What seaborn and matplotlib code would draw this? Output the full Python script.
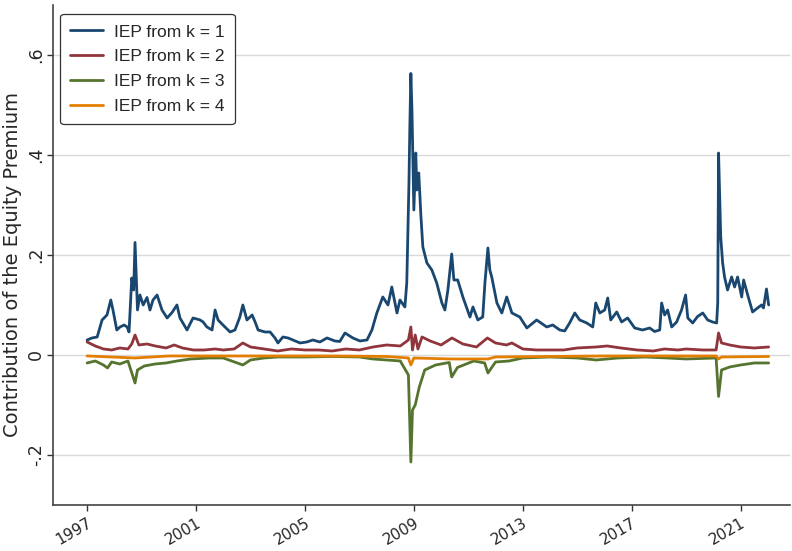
import numpy as np
import pandas as pd
import matplotlib
matplotlib.use("Agg")
import matplotlib.pyplot as plt
import seaborn as sns

# ---- data (decimal years, contribution) ----
k1_year = [1997.00, 1997.18, 1997.37, 1997.55, 1997.73, 1997.87, 1997.95, 1998.09, 1998.21, 1998.36,
           1998.47, 1998.54, 1998.64, 1998.71, 1998.76, 1998.85, 1998.94, 1999.06, 1999.20, 1999.31,
           1999.42, 1999.57, 1999.75, 1999.94, 2000.12, 2000.30, 2000.41, 2000.67, 2000.89, 2001.15,
           2001.26, 2001.40, 2001.59, 2001.70, 2001.81, 2001.99, 2002.25, 2002.43, 2002.61, 2002.72,
           2002.87, 2003.06, 2003.17, 2003.28, 2003.53, 2003.72, 2003.90, 2004.01, 2004.19, 2004.38,
           2004.56, 2004.82, 2005.07, 2005.29, 2005.55, 2005.81, 2006.10, 2006.28, 2006.47, 2006.76,
           2007.02, 2007.28, 2007.46, 2007.64, 2007.86, 2008.05, 2008.19, 2008.38, 2008.49, 2008.67,
           2008.74, 2008.78, 2008.82, 2008.85, 2008.89, 2008.93, 2008.96, 2009.00, 2009.07, 2009.11,
           2009.18, 2009.26, 2009.33, 2009.48, 2009.66, 2009.84, 2010.03, 2010.14, 2010.25, 2010.39,
           2010.47, 2010.61, 2010.80, 2011.06, 2011.17, 2011.35, 2011.53, 2011.61, 2011.72, 2011.79,
           2011.86, 2012.05, 2012.23, 2012.41, 2012.60, 2012.89, 2013.15, 2013.51, 2013.88, 2014.10,
           2014.36, 2014.54, 2014.72, 2014.91, 2015.09, 2015.35, 2015.57, 2015.68, 2015.83, 2016.01,
           2016.12, 2016.23, 2016.45, 2016.63, 2016.85, 2017.11, 2017.40, 2017.66, 2017.84, 2018.03,
           2018.10, 2018.21, 2018.32, 2018.47, 2018.65, 2018.83, 2018.98, 2019.06, 2019.24, 2019.42,
           2019.61, 2019.79, 2019.97, 2020.12, 2020.16, 2020.19, 2020.27, 2020.34, 2020.41, 2020.52,
           2020.67, 2020.78, 2020.89, 2021.04, 2021.11, 2021.26, 2021.44, 2021.62, 2021.77, 2021.84,
           2021.95, 2022.03]
k1_value = [0.030, 0.034, 0.036, 0.070, 0.080, 0.110, 0.090, 0.050, 0.056, 0.060,
            0.056, 0.046, 0.154, 0.130, 0.225, 0.090, 0.120, 0.100, 0.115, 0.090,
            0.110, 0.120, 0.090, 0.074, 0.085, 0.100, 0.074, 0.050, 0.074, 0.070,
            0.066, 0.056, 0.050, 0.090, 0.070, 0.060, 0.046, 0.050, 0.076, 0.100,
            0.070, 0.080, 0.066, 0.050, 0.046, 0.046, 0.034, 0.024, 0.036, 0.034,
            0.030, 0.024, 0.026, 0.030, 0.026, 0.034, 0.028, 0.027, 0.044, 0.034,
            0.028, 0.030, 0.050, 0.084, 0.116, 0.100, 0.136, 0.084, 0.110, 0.096,
            0.144, 0.244, 0.344, 0.450, 0.563, 0.490, 0.400, 0.290, 0.404, 0.330,
            0.364, 0.277, 0.216, 0.184, 0.170, 0.144, 0.104, 0.090, 0.130, 0.202,
            0.150, 0.150, 0.116, 0.076, 0.096, 0.070, 0.076, 0.144, 0.214, 0.170,
            0.156, 0.104, 0.084, 0.116, 0.084, 0.076, 0.054, 0.070, 0.056, 0.060,
            0.050, 0.048, 0.064, 0.084, 0.070, 0.064, 0.056, 0.104, 0.084, 0.090,
            0.114, 0.070, 0.086, 0.066, 0.074, 0.054, 0.050, 0.054, 0.047, 0.050,
            0.104, 0.080, 0.090, 0.056, 0.066, 0.090, 0.120, 0.074, 0.064, 0.077,
            0.084, 0.070, 0.066, 0.064, 0.104, 0.404, 0.236, 0.184, 0.156, 0.130,
            0.156, 0.136, 0.156, 0.116, 0.150, 0.120, 0.086, 0.094, 0.100, 0.094,
            0.132, 0.100]

k2_year = [1997.00, 1997.30, 1997.60, 1997.90, 1998.20, 1998.50, 1998.64, 1998.76, 1998.90, 1999.20,
           1999.50, 1999.90, 2000.20, 2000.50, 2000.90, 2001.30, 2001.70, 2002.00, 2002.40, 2002.72,
           2003.00, 2003.50, 2004.00, 2004.50, 2005.00, 2005.50, 2006.00, 2006.50, 2007.00, 2007.50,
           2008.00, 2008.50, 2008.80, 2008.89, 2008.95, 2009.05, 2009.15, 2009.30, 2009.60, 2010.00,
           2010.40, 2010.80, 2011.30, 2011.70, 2012.00, 2012.40, 2012.60, 2013.00, 2013.50, 2014.00,
           2014.50, 2015.00, 2015.70, 2016.10, 2016.60, 2017.20, 2017.80, 2018.20, 2018.70, 2019.00,
           2019.60, 2020.10, 2020.19, 2020.30, 2020.60, 2021.00, 2021.50, 2022.03]
k2_value = [0.026, 0.018, 0.012, 0.010, 0.014, 0.012, 0.022, 0.040, 0.020, 0.022,
            0.018, 0.014, 0.020, 0.014, 0.010, 0.010, 0.012, 0.010, 0.012, 0.024,
            0.016, 0.012, 0.008, 0.012, 0.010, 0.010, 0.008, 0.012, 0.010, 0.016,
            0.020, 0.018, 0.030, 0.056, 0.010, 0.040, 0.012, 0.036, 0.028, 0.020,
            0.034, 0.022, 0.016, 0.034, 0.024, 0.020, 0.024, 0.012, 0.010, 0.010,
            0.010, 0.014, 0.016, 0.018, 0.014, 0.010, 0.008, 0.012, 0.010, 0.012,
            0.010, 0.010, 0.044, 0.024, 0.020, 0.016, 0.014, 0.016]

k3_year = [1997.00, 1997.30, 1997.60, 1997.75, 1997.90, 1998.20, 1998.50, 1998.76, 1998.85, 1999.10,
           1999.50, 1999.90, 2000.30, 2000.80, 2001.50, 2002.00, 2002.72, 2003.00, 2003.50, 2004.00,
           2005.00, 2006.00, 2007.00, 2007.50, 2008.00, 2008.50, 2008.80, 2008.89, 2008.95, 2009.05,
           2009.20, 2009.40, 2009.80, 2010.30, 2010.39, 2010.60, 2011.20, 2011.60, 2011.72, 2012.00,
           2012.50, 2013.00, 2014.00, 2015.00, 2015.70, 2016.50, 2017.50, 2018.30, 2019.00, 2020.10,
           2020.19, 2020.30, 2020.60, 2021.00, 2021.50, 2022.03]
k3_value = [-0.016, -0.012, -0.020, -0.026, -0.014, -0.018, -0.012, -0.056, -0.030, -0.022,
            -0.018, -0.016, -0.012, -0.008, -0.006, -0.006, -0.020, -0.010, -0.006, -0.004,
            -0.004, -0.003, -0.004, -0.008, -0.010, -0.012, -0.040, -0.214, -0.110, -0.100,
            -0.064, -0.030, -0.020, -0.015, -0.044, -0.025, -0.012, -0.016, -0.036, -0.014,
            -0.012, -0.006, -0.004, -0.006, -0.010, -0.006, -0.004, -0.006, -0.008, -0.006,
            -0.083, -0.030, -0.024, -0.020, -0.016, -0.016]

k4_year = [1997.00, 1998.76, 2000.00, 2003.00, 2006.00, 2008.00, 2008.80, 2008.89, 2009.00, 2010.39,
           2011.72, 2012.00, 2016.00, 2020.10, 2020.19, 2020.30, 2022.03]
k4_value = [-0.002, -0.006, -0.002, -0.002, -0.002, -0.003, -0.006, -0.020, -0.006, -0.008,
            -0.008, -0.004, -0.002, -0.002, -0.008, -0.004, -0.003]

labels = ["IEP from k = 1", "IEP from k = 2", "IEP from k = 3", "IEP from k = 4"]
colors = ["#1a476f", "#90353b", "#55752f", "#e37e00"]
x_ticks = [1997, 2001, 2005, 2009, 2013, 2017, 2021]
y_ticks = [-0.2, 0.0, 0.2, 0.4, 0.6]
y_ticklabels = ["-.2", "0", ".2", ".4", ".6"]

frames = []
for lab, xs, ys in zip(labels, [k1_year, k2_year, k3_year, k4_year],
                       [k1_value, k2_value, k3_value, k4_value]):
    frames.append(pd.DataFrame({"year": xs, "value": ys, "series": lab}))
df = pd.concat(frames, ignore_index=True)

sns.set_style("ticks")
plt.rcParams["font.family"] = ["DejaVu Sans"]

fig = plt.figure(figsize=(7.92, 5.51), dpi=100)
ax = fig.add_axes([0.067, 0.0835, 0.930, 0.9075])

ax.set_axisbelow(True)
for yv in y_ticks:
    ax.axhline(yv, color="#d9d9d9", lw=1.0, zorder=0)

sns.lineplot(data=df, x="year", y="value", hue="series", hue_order=labels,
             palette=colors, estimator=None, sort=True, lw=2.0, ax=ax)

ax.set_xlim(1995.75, 2022.8)
ax.set_ylim(-0.3, 0.7)
ax.set_xticks(x_ticks)
ax.set_xticklabels([str(t) for t in x_ticks], rotation=30, ha="right",
                   rotation_mode="anchor", fontsize=11)
ax.set_yticks(y_ticks)
ax.set_yticklabels(y_ticklabels, rotation=90, va="center", fontsize=12.5)
ax.tick_params(axis="both", length=4, width=1, color="#333333")
ax.tick_params(axis="y", pad=2)
ax.set_xlabel("")
ax.set_ylabel("Contribution of the Equity Premium", fontsize=14)
ax.yaxis.set_label_coords(-0.042, 0.48)

for s in ["top", "right"]:
    ax.spines[s].set_visible(False)
for s in ["left", "bottom"]:
    ax.spines[s].set_color("#444444")
    ax.spines[s].set_linewidth(1.2)

handles, labs = ax.get_legend_handles_labels()
for h in handles:
    h.set_linewidth(2)
leg = ax.legend(handles, labs, loc="upper left", bbox_to_anchor=(0.0095, 0.982),
                borderaxespad=0, frameon=True, fancybox=True, edgecolor="#333333",
                framealpha=1,
                prop={"family": ["Liberation Sans", "DejaVu Sans"], "size": 12.5},
                handlelength=1.9, labelspacing=0.55, borderpad=0.6, handletextpad=0.6)
leg.get_frame().set_linewidth(0.9)

fig.savefig("out.png", dpi=100)
